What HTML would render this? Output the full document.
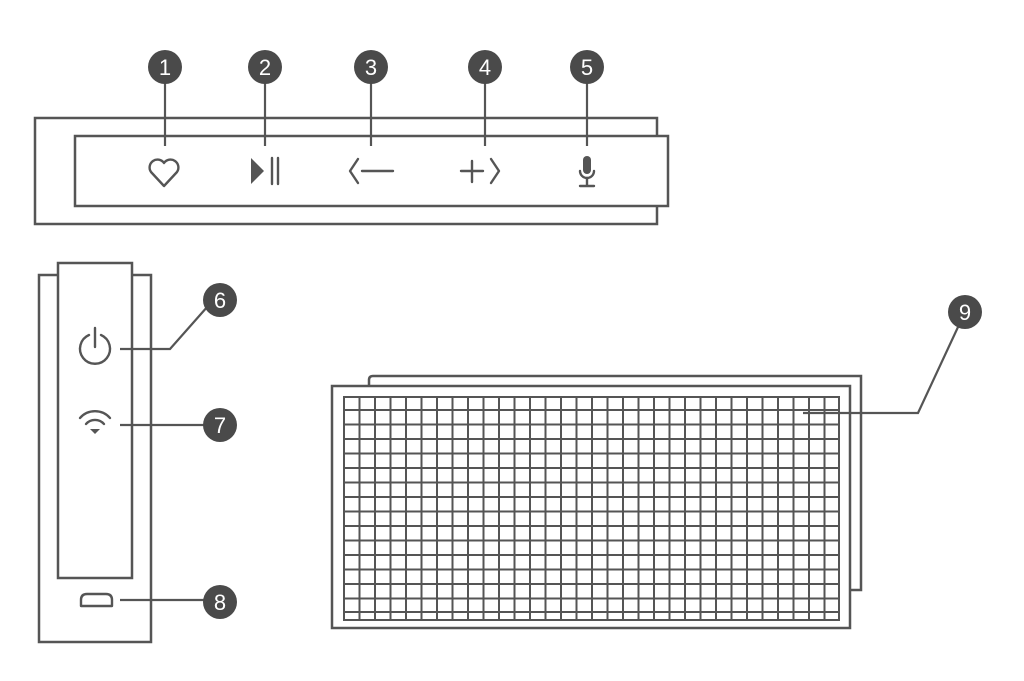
<!DOCTYPE html>
<html><head><style>body{margin:0;background:#fff}svg{display:block}</style></head><body>
<svg width="1024" height="681" xmlns="http://www.w3.org/2000/svg">
<rect width="1024" height="681" fill="#fff"/>
<g fill="none" stroke="#555" stroke-width="2.5">
<path d="M657 136 V118 H35 V224 H657 V206"/>
<rect x="75" y="136" width="593" height="70"/>
<path d="M58 275 H39 V642 H151 V275 H132"/>
<rect x="58" y="263" width="74" height="315"/>
<path d="M369 386 V380 Q369 376 373 376 H861 V590 H851"/>
<rect x="332" y="386" width="518" height="242"/>
</g>
<g stroke="#555" stroke-width="2.2" fill="none">
<line x1="165" y1="67" x2="165" y2="146"/>
<line x1="265" y1="67" x2="265" y2="146"/>
<line x1="371" y1="67" x2="371" y2="146"/>
<line x1="485" y1="67" x2="485" y2="146"/>
<line x1="587" y1="67" x2="587" y2="146"/>
<polyline points="120,349 170,349 208,306"/>
<line x1="120" y1="425" x2="220" y2="425"/>
<line x1="120" y1="600" x2="220" y2="600"/>
<polyline points="965,312 918,413 803,413"/>
</g>
<g stroke="#555" stroke-width="2">
<rect x="344" y="397" width="495" height="223" fill="none"/>
<path d="M359.5 397V620M375 397V620M390.5 397V620M406 397V620M421.5 397V620M437 397V620M452.5 397V620M468 397V620M483.5 397V620M499 397V620M514.5 397V620M530 397V620M545.5 397V620M561 397V620M576.5 397V620M592 397V620M607.5 397V620M623 397V620M638.5 397V620M654 397V620M669.5 397V620M685 397V620M700.5 397V620M716 397V620M731.5 397V620M747 397V620M762.5 397V620M778 397V620M793.5 397V620M809 397V620M824.5 397V620"/>
<path d="M344 410H839M344 424.5H839M344 439H839M344 453.5H839M344 468H839M344 482.5H839M344 497H839M344 511.5H839M344 526H839M344 540.5H839M344 555H839M344 569.5H839M344 584H839M344 598.5H839M344 612H839"/>
</g>
<g fill="none" stroke="#555" stroke-width="2.4" stroke-linecap="round" stroke-linejoin="round">
<path d="M164 186 L151 172 A6.5 6.5 0 0 1 164 163 A6.5 6.5 0 0 1 177 172 Z"/>
<line x1="272" y1="158" x2="272" y2="184"/>
<line x1="278" y1="158" x2="278" y2="184"/>
<polyline points="358,159 350,171 358,183"/>
<line x1="362" y1="171" x2="393" y2="171"/>
<line x1="461" y1="171" x2="483" y2="171"/>
<line x1="472" y1="161" x2="472" y2="182"/>
<polyline points="491,159 499,171 491,183"/>
<path d="M580 171 A7 7 0 0 0 594 171"/>
<line x1="587" y1="178" x2="587" y2="185"/>
<line x1="580" y1="186" x2="594" y2="186"/>
<path d="M89 335 A15 15 0 1 0 101 335"/>
<line x1="95" y1="328" x2="95" y2="347"/>
<path d="M80 418 A20 20 0 0 1 110 418"/>
<path d="M86 424 A12 12 0 0 1 104 424"/>
<path d="M81 606 V600 Q81 594 87 594 H106 Q112 594 112 600 V606 Z"/>
</g>
<path d="M251 158 L264 171 L251 184 Z" fill="#555"/>
<rect x="583" y="156" width="8" height="18" rx="4" fill="#555"/>
<path d="M90 429 L100 429 L95 434 Z" fill="#555"/>
<g fill="#4a4a4a">
<circle cx="165" cy="67" r="17"/><circle cx="265" cy="67" r="17"/><circle cx="371" cy="67" r="17"/>
<circle cx="485" cy="67" r="17"/><circle cx="587" cy="67" r="17"/>
<circle cx="220" cy="300" r="17"/><circle cx="220" cy="425" r="17"/><circle cx="220" cy="602" r="17"/>
<circle cx="965" cy="312" r="17"/>
</g>
<g fill="#fff" font-family="Liberation Sans, sans-serif" font-size="22" text-anchor="middle">
<text x="165" y="75">1</text><text x="265" y="75">2</text><text x="371" y="75">3</text>
<text x="485" y="75">4</text><text x="587" y="75">5</text>
<text x="220" y="308">6</text><text x="220" y="433">7</text><text x="220" y="610">8</text>
<text x="965" y="320">9</text>
</g>
</svg>
</body></html>
